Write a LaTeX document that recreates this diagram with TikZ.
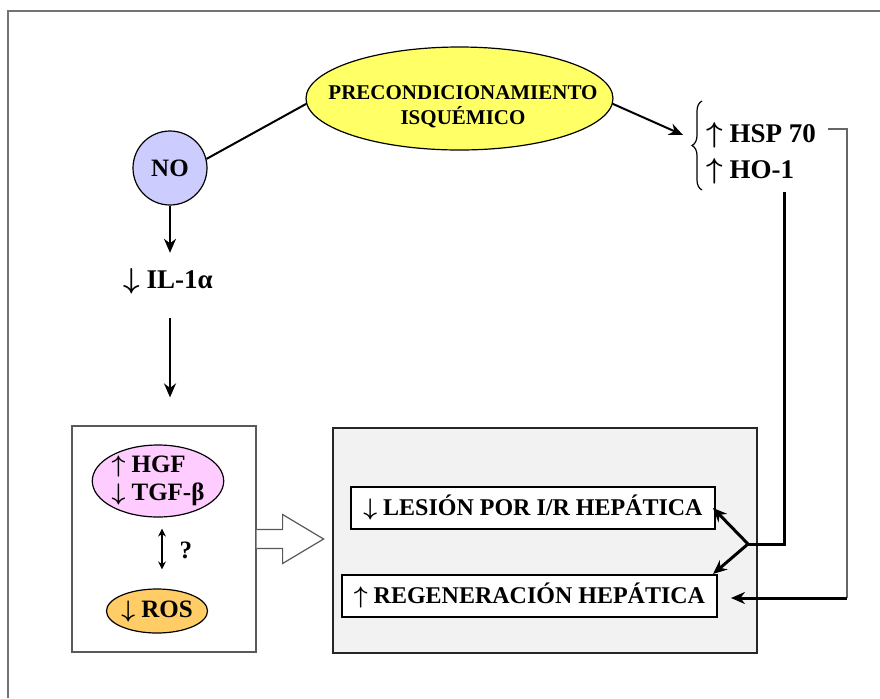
\documentclass[tikz,border=0pt]{standalone}
\usepackage{fontspec}
\setmainfont{Liberation Serif}
\usetikzlibrary{arrows.meta, positioning, shapes.geometric, decorations.pathreplacing, calc}
\definecolor{precyellow}{RGB}{255,255,102}
\definecolor{nolilac}{RGB}{204,204,255}
\definecolor{hgfpink}{RGB}{255,204,255}
\definecolor{rosorange}{RGB}{255,204,102}
\definecolor{panelgray}{RGB}{242,242,242}
\newcommand{\up}{{\boldmath$\uparrow$}}
\newcommand{\down}{{\boldmath$\downarrow$}}
\tikzset{
  oval/.style    ={ellipse, draw=black, line width=0.6pt, inner sep=0pt, align=center,
                   font=\bfseries\fontsize{12.5}{14}\selectfont},
  lbl/.style     ={inner sep=1pt, align=left, font=\bfseries\fontsize{13.5}{15}\selectfont},
  resbox/.style  ={rectangle, draw=black, line width=1pt, fill=white, minimum height=21pt,
                   font=\bfseries\fontsize{12}{14}\selectfont},
  arr/.style     ={-{Stealth[length=7pt, width=6pt]}, line width=1pt},
  wire/.style    ={line width=1.5pt},
  thinwire/.style={line width=0.7pt, black!60},
  hollow/.style  ={draw=black!65, line width=0.6pt, fill=white}
}
\begin{document}
\begin{tikzpicture}[x=0.5pt, y=-0.5pt]
    \useasboundingbox (0,0) rectangle (880,698);
    % frame
    \draw[black!55, line width=1pt] (880,11) -- (8,11) -- (8,698);

    \node[oval, fill=precyellow, minimum width=153.5pt, minimum height=51.5pt] (prec) at (459.5,98.5) {};
    \node[align=center, font=\bfseries\fontsize{10.5}{12.5}\selectfont] (prectxt) at (463,107) {PRECONDICIONAMIENTO\\ISQUÉMICO};
    \node[circle, draw=black, line width=0.6pt, fill=nolilac, minimum size=37pt, inner sep=0pt,
          font=\bfseries\fontsize{12.5}{14}\selectfont] (no) at (170,168) {NO};
    \node[lbl] (il1) at (168,281) {\down\ IL-1α};

    % brace group
    \draw[line width=0.6pt, decorate, decoration={brace, amplitude=5pt}] (702,190) -- (702,101);
    \coordinate (brtip) at (683,135);
    \node[lbl, anchor=west] (hsp) at (704,135) {\up\ HSP 70};
    \node[lbl, anchor=west] (ho1) at (704,171) {\up\ HO-1};

    % left panel
    \node[draw=black!65, line width=0.6pt, minimum width=92pt, minimum height=113pt] (lbox) at (164,539) {};
    \node[oval, fill=hgfpink, align=left, minimum width=60pt, minimum height=36pt] (hgf) at (158,481) {\up\ HGF\\\down\ TGF-β};
    \node[oval, fill=rosorange, minimum width=50pt, minimum height=22pt] (ros) at (157,611) {\down\ ROS};
    \node[font=\bfseries\fontsize{12.5}{14}\selectfont] (q) at (186,550) {?};

    % right panel
    \node[draw=black!85, line width=1pt, fill=panelgray, minimum width=212pt, minimum height=112.5pt] (gbox) at (545,540.5) {};
    \node[resbox, minimum width=182pt] (lesion) at (533,508) {\down\ LESIÓN POR I/R HEPÁTICA};
    \node[resbox, minimum width=187.5pt] (regen) at (529.5,596) {\up\ REGENERACIÓN HEPÁTICA};

    \coordinate (hsptick) at (828,129);
    \coordinate (rtop) at (847,129);
    \coordinate (rbot) at (847,598);
    \coordinate (hodrop) at (784,192);
    \coordinate (hoturn) at (784,544);
    \coordinate (split) at (748,544);

    \draw[line width=1pt] (no.14) -- (prec.182);
    \draw[arr] (prec.-2) -- (brtip);
    \draw[arr, shorten >=6.5pt] (no.south) -- (no.south |- il1.north);
    \draw[arr, shorten <=11pt, shorten >=14pt] (il1.south -| no.south) -- (no.south |- lbox.north);
    \draw[{Stealth[length=4pt, width=4pt]}-{Stealth[length=4pt, width=4pt]}, line width=0.6pt,
          shorten <=5.5pt, shorten >=9.5pt] ([xshift=2pt]hgf.south) -- ([xshift=2.5pt]ros.north);
    \draw[hollow] (lbox.east) ++(0,-9.5) -- ++(26,0) -- ++(0,-15) -- ++(41,24.5)
          -- ++(-41,24.5) -- ++(0,-15) -- ++(-26,0);

    \draw[thinwire] (hsptick) -- (rtop) -- (rbot);
    \draw[arr, line width=1.5pt, shorten >=6.5pt] (rbot) -- (regen.east |- rbot);
    \draw[wire] (hodrop) -- (hoturn) -- (split);
    \draw[arr, line width=1.5pt] (split) -- ([xshift=-1.5pt]lesion.east);
    \draw[arr, line width=1.5pt] (split) -- ([xshift=-2.5pt]regen.north east);
  \end{tikzpicture}
\end{document}
